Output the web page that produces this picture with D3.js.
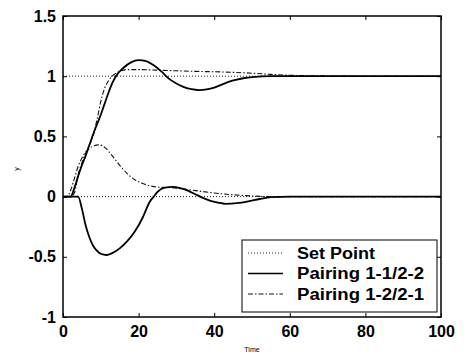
<!DOCTYPE html>
<html><head><meta charset="utf-8">
<script src="https://cdn.jsdelivr.net/npm/d3@7"></script>
<style>body{margin:0;background:#fff}svg{display:block}</style>
</head><body>
<svg id="c" width="466" height="355"></svg>
<script>
const xTicks = [0, 20, 40, 60, 80, 100];
const yTicks = [-1, -0.5, 0, 0.5, 1, 1.5];
const yTickLabels = ["-1", "-0.5", "0", "0.5", "1", "1.5"];
const legendLabels = ["Set Point", "Pairing 1-1/2-2", "Pairing 1-2/2-1"];

const setPoint1 = [[0, 1], [100, 1]];
const setPoint2 = [[0, 0], [100, 0]];

const solidY1 = [[0,0],[2,0],[3,0.07],[4,0.17],[5,0.26],[6,0.34],[7,0.43],[8,0.52],[9,0.6],[10,0.68],[11,0.77],[12,0.86],[13,0.94],[14,1.0],[16,1.07],[18,1.115],[20,1.133],[22,1.125],[24,1.09],[26,1.04],[28,0.98],[30,0.94],[32,0.91],[34,0.892],[36,0.885],[38,0.89],[40,0.905],[42,0.93],[44,0.955],[46,0.972],[48,0.985],[50,0.993],[55,1.0],[60,1.0],[100,1.0]];
const solidY2 = [[0,0],[4,0],[5,-0.1],[6,-0.24],[7,-0.34],[8,-0.41],[9,-0.45],[10,-0.475],[11.5,-0.485],[13,-0.47],[15,-0.43],[17,-0.37],[19,-0.29],[21,-0.18],[23,-0.04],[24,0.0],[25,0.04],[27,0.075],[29,0.08],[31,0.07],[33,0.05],[35,0.02],[37,-0.01],[39,-0.035],[41,-0.05],[43,-0.06],[46,-0.055],[49,-0.04],[52,-0.02],[55,-0.005],[60,0],[100,0]];
const dashY1 = [[0,0],[2,0],[3,0.03],[4,0.18],[5,0.28],[6,0.36],[7,0.43],[8,0.51],[9,0.64],[10,0.79],[11,0.9],[12,0.96],[13,1.0],[15,1.04],[17,1.055],[20,1.055],[25,1.05],[30,1.045],[35,1.04],[40,1.037],[45,1.032],[50,1.025],[55,1.015],[60,1.008],[70,1.002],[80,1.0],[100,1.0]];
const dashY2 = [[0,0],[1,0],[2,0.05],[3,0.15],[4,0.25],[5,0.32],[6,0.37],[7,0.4],[8,0.42],[9.5,0.43],[11,0.41],[13,0.34],[15,0.26],[17,0.19],[19,0.14],[21,0.11],[23,0.09],[25,0.078],[28,0.075],[30,0.07],[35,0.05],[40,0.03],[45,0.015],[50,0.005],[55,0],[100,0]];

const svg = d3.select("#c");
const L = 63, R = 441, T = 16, B = 317;
const x = d3.scaleLinear().domain([0, 100]).range([L, R]);
const y = d3.scaleLinear().domain([-1, 1.5]).range([B, T]);
const font = "'Liberation Sans', Arial, sans-serif";

const line = d3.line().x(d => x(d[0])).y(d => y(d[1])).curve(d3.curveMonotoneX);

const styles = {
  set: {w: 1, dash: "1,2", c: "#222"},
  solid: {w: 1.8, dash: null, c: "#000"},
  dash: {w: 1.1, dash: "5,2,1.5,2", c: "#111"}
};
function draw(data, s) {
  svg.append("path").datum(data).attr("d", line)
    .attr("fill", "none").attr("stroke", s.c).attr("stroke-width", s.w)
    .attr("stroke-dasharray", s.dash);
}
draw(setPoint1, styles.set);
draw(setPoint2, styles.set);
draw(dashY1, styles.dash);
draw(dashY2, styles.dash);
draw(solidY1, styles.solid);
draw(solidY2, styles.solid);

// axes (inward ticks, boxed)
const tl = 4;
svg.append("g").attr("transform", `translate(0,${B})`)
  .call(d3.axisBottom(x).tickValues(xTicks).tickSizeInner(-tl).tickSizeOuter(0).tickPadding(9))
  .call(g => { g.select(".domain").remove(); g.selectAll("text").attr("font-family", font).attr("font-size", 16).attr("font-weight", "bold").attr("fill", "#000"); g.selectAll("line").attr("stroke", "#000"); });
svg.append("g").attr("transform", `translate(0,${T})`)
  .call(d3.axisTop(x).tickValues(xTicks).tickSizeInner(-tl).tickSizeOuter(0).tickFormat(""))
  .call(g => { g.select(".domain").remove(); g.selectAll("line").attr("stroke", "#000"); });
svg.append("g").attr("transform", `translate(${L},0)`)
  .call(d3.axisLeft(y).tickValues(yTicks).tickSizeInner(-tl).tickSizeOuter(0).tickPadding(7)
    .tickFormat((d, i) => yTickLabels[i]))
  .call(g => { g.select(".domain").remove(); g.selectAll("text").attr("font-family", font).attr("font-size", 16).attr("font-weight", "bold").attr("fill", "#000"); g.selectAll("line").attr("stroke", "#000"); });
svg.append("g").attr("transform", `translate(${R},0)`)
  .call(d3.axisRight(y).tickValues(yTicks).tickSizeInner(-tl).tickSizeOuter(0).tickFormat(""))
  .call(g => { g.select(".domain").remove(); g.selectAll("line").attr("stroke", "#000"); });

svg.append("rect").attr("x", L).attr("y", T).attr("width", R - L).attr("height", B - T)
  .attr("fill", "none").attr("stroke", "#000").attr("stroke-width", 1.5);

// axis labels
svg.append("text").attr("x", (L + R) / 2).attr("y", 352).attr("text-anchor", "middle")
  .attr("font-family", font).attr("font-size", 7).text("Time");
svg.append("text").attr("transform", "translate(19,169) rotate(-90)").attr("text-anchor", "middle")
  .attr("font-family", font).attr("font-size", 7).text("y");

// legend
const lg = svg.append("g");
lg.append("rect").attr("x", 242).attr("y", 240).attr("width", 195).attr("height", 72)
  .attr("fill", "#fff").attr("stroke", "#000").attr("stroke-width", 1);
const legStyles = [styles.set, styles.solid, styles.dash];
legendLabels.forEach((t, i) => {
  const cy = 253 + i * 20.5;
  lg.append("line").attr("x1", 248).attr("x2", 283).attr("y1", cy).attr("y2", cy)
    .attr("stroke", legStyles[i].c).attr("stroke-width", i === 1 ? 1.3 : 1).attr("stroke-dasharray", legStyles[i].dash);
  lg.append("text").attr("x", 297).attr("y", cy + 5.5).attr("font-family", font).attr("font-size", 16)
    .attr("font-weight", "bold").attr("textLength", i === 0 ? 78 : 127).attr("lengthAdjust", "spacingAndGlyphs")
    .text(t);
});
</script>
</body></html>
